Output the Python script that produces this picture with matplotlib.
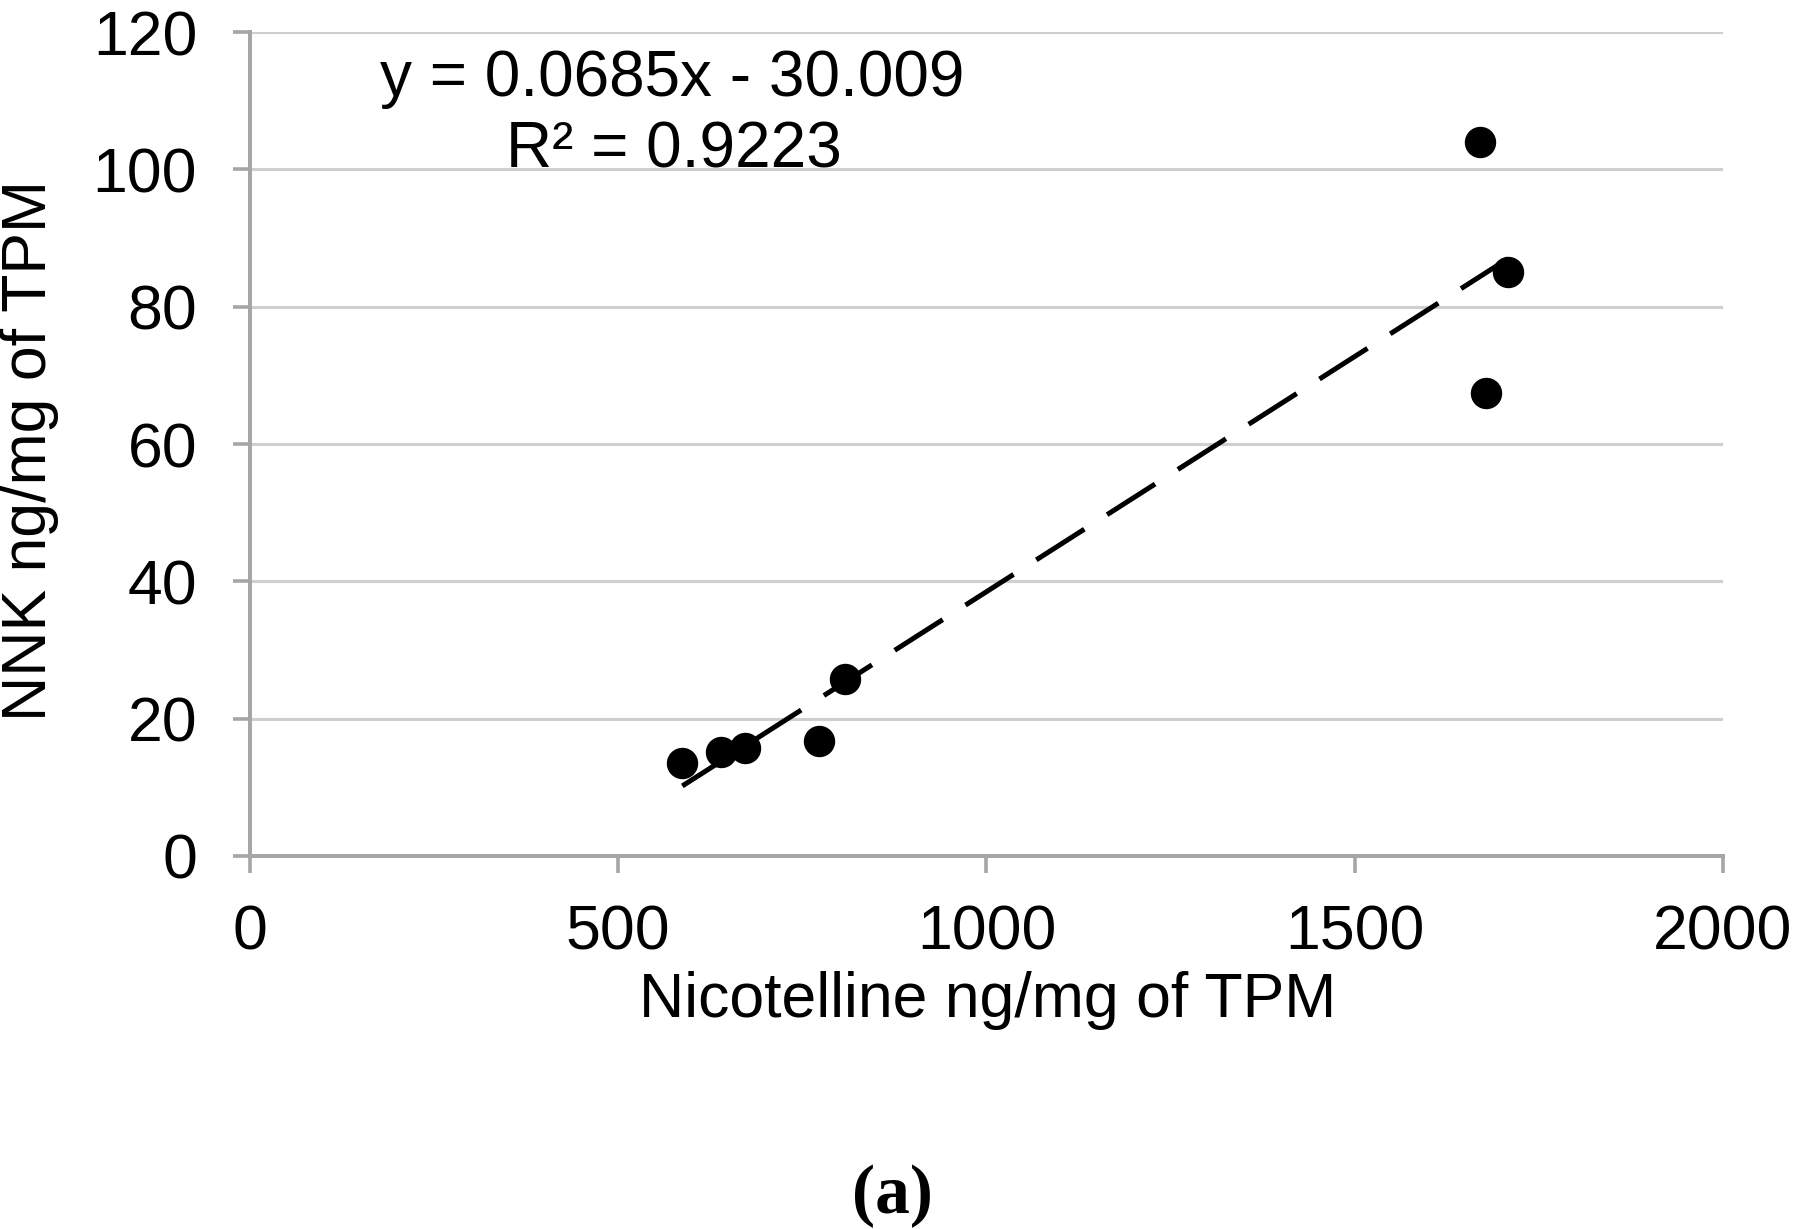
import matplotlib
matplotlib.use("Agg")
import matplotlib.pyplot as plt
import numpy as np

# Nicotelline vs NNK (ng/mg of TPM)
nicotelline = [587, 640, 672, 773, 808, 1670, 1678, 1708]
nnk = [13.5, 15.2, 15.7, 16.8, 25.8, 104.0, 67.5, 85.1]

# Linear trendline as reported on the chart
slope = 0.0685
intercept = -30.009
r_squared = 0.9223

x_ticks = [0, 500, 1000, 1500, 2000]
y_ticks = [0, 20, 40, 60, 80, 100, 120]

SPINE = '#a6a6a6'
GRID = '#cfcfcf'
SANS = ['Liberation Sans', 'DejaVu Sans']

plt.rcParams['font.family'] = SANS

fig = plt.figure(figsize=(18, 12.29), dpi=100)
ax = fig.add_axes([0.1389, 0.3035, 0.9572 - 0.1389, 0.97396 - 0.3035])

ax.plot(nicotelline, nnk, 'o', color='black', markersize=21.6, zorder=3)

x_line = np.array([min(nicotelline), max(nicotelline)])
ax.plot(x_line, slope * x_line + intercept, color='black', linewidth=3.6,
        dashes=(11.4, 5.4), dash_capstyle='butt', zorder=4)

ax.set_xlim(0, 2000)
ax.set_ylim(0, 120)
ax.set_xticks(x_ticks)
ax.set_yticks(y_ticks)

ax.grid(axis='y', color=GRID, linewidth=2.2)
ax.set_axisbelow(True)
for side in ['top', 'right']:
    ax.spines[side].set_visible(False)
for side in ['left', 'bottom']:
    ax.spines[side].set_color(SPINE)
    ax.spines[side].set_linewidth(2.9)

ax.tick_params(axis='both', direction='out', length=12, width=2.6,
               color=SPINE, labelsize=45, labelcolor='black')
ax.tick_params(axis='x', pad=22)
ax.tick_params(axis='y', pad=26)

ax.set_xlabel('Nicotelline ng/mg of TPM', fontsize=45)
ax.set_ylabel('NNK ng/mg of TPM', fontsize=45)
ax.xaxis.set_label_coords(0.501, -0.14)
ax.yaxis.set_label_coords(-0.130, 0.492)

# trendline label, two lines centred over the upper-left area
ax.text(573, 110.7, f'y = {slope}x - {abs(intercept):.3f}', fontsize=46,
        ha='center', va='baseline')
ax.text(575, 100.3, f'R² = {r_squared}', fontsize=46,
        ha='center', va='baseline')

fig.text(892 / 1800, 1 - 1196 / 1229, '(a)', fontsize=50, fontweight='bold',
         family=['Liberation Serif', 'DejaVu Serif'], ha='center', va='center')

fig.savefig('out.png', dpi=100)
